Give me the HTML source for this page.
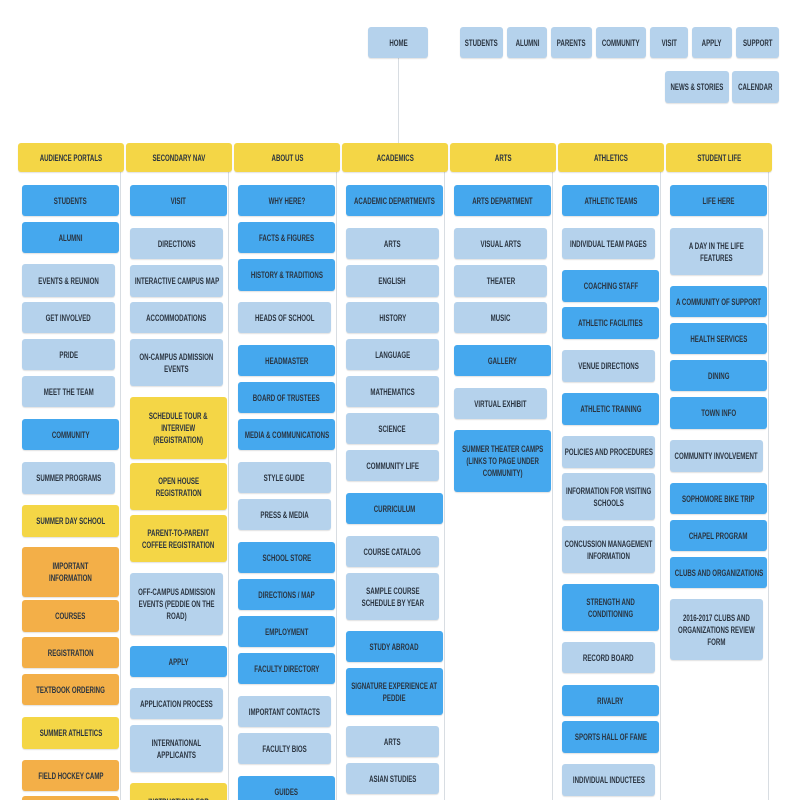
<!DOCTYPE html>
<html><head><meta charset="utf-8">
<style>
html,body{margin:0;padding:0;background:#fff;width:800px;height:800px;overflow:hidden;position:relative}
.b{position:absolute;box-sizing:border-box;border-radius:3px;display:flex;align-items:center;justify-content:center;text-align:center;font-family:"Liberation Sans",sans-serif;font-size:9px;font-weight:bold;line-height:12px;color:#2a3440;box-shadow:0 1px 1px rgba(0,0,0,0.12);overflow:visible}
.b span{display:inline-block;white-space:nowrap;transform:scaleX(0.68);transform-origin:center}
.y{background:#f4d646}.bl{background:#45a8ee}.l{background:#b5d2ec}.o{background:#f3af48}
.ln{position:absolute;background:#d8dde2}
</style></head><body>
<div class="ln" style="left:398px;top:58px;width:1px;height:85px"></div>
<script>
const top1=[["HOME",368,428,27,58],["STUDENTS",460,503,27,58],["ALUMNI",507,547,27,58],["PARENTS",551,592,27,58],["COMMUNITY",596,646,27,58],["VISIT",650,688,27,58],["APPLY",692,732,27,58],["SUPPORT",736,779,27,58],["NEWS & STORIES",665,729,71,103],["CALENDAR",732,779,71,103]];
const cols=[18,126,234,342,450,558,666];
const heads=["AUDIENCE PORTALS","SECONDARY NAV","ABOUT US","ACADEMICS","ARTS","ATHLETICS","STUDENT LIFE"];
const items=[
[["STUDENTS",185,216,"bl"],["ALUMNI",222,253,"bl"],["EVENTS & REUNION",264,297,"l"],["GET INVOLVED",302,333,"l"],["PRIDE",339,370,"l"],["MEET THE TEAM",376,407,"l"],["COMMUNITY",419,450,"bl"],["SUMMER PROGRAMS",462,494,"l"],["SUMMER DAY SCHOOL",505,537,"y"],["IMPORTANT<br>INFORMATION",547,597,"o"],["COURSES",600,632,"o"],["REGISTRATION",637,668,"o"],["TEXTBOOK ORDERING",674,705,"o"],["SUMMER ATHLETICS",717,749,"y"],["FIELD HOCKEY CAMP",760,791,"o"],["",796,820,"o"]],
[["VISIT",185,216,"bl"],["DIRECTIONS",228,259,"l"],["INTERACTIVE CAMPUS MAP",265,297,"l"],["ACCOMMODATIONS",302,333,"l"],["ON-CAMPUS ADMISSION<br>EVENTS",339,386,"l"],["SCHEDULE TOUR &<br>INTERVIEW<br>(REGISTRATION)",397,459,"y"],["OPEN HOUSE<br>REGISTRATION",463,510,"y"],["PARENT-TO-PARENT<br>COFFEE REGISTRATION",515,562,"y"],["OFF-CAMPUS ADMISSION<br>EVENTS (PEDDIE ON THE<br>ROAD)",573,635,"l"],["APPLY",646,677,"bl"],["APPLICATION PROCESS",688,719,"l"],["INTERNATIONAL<br>APPLICANTS",725,772,"l"],["INSTRUCTIONS FOR",783,820,"y"]],
[["WHY HERE?",185,216,"bl"],["FACTS & FIGURES",222,253,"bl"],["HISTORY & TRADITIONS",259,291,"bl"],["HEADS OF SCHOOL",302,333,"l"],["HEADMASTER",345,376,"bl"],["BOARD OF TRUSTEES",382,413,"bl"],["MEDIA & COMMUNICATIONS",419,450,"bl"],["STYLE GUIDE",462,493,"l"],["PRESS & MEDIA",499,530,"l"],["SCHOOL STORE",542,573,"bl"],["DIRECTIONS / MAP",579,610,"bl"],["EMPLOYMENT",616,647,"bl"],["FACULTY DIRECTORY",653,684,"bl"],["IMPORTANT CONTACTS",696,727,"l"],["FACULTY BIOS",733,764,"l"],["GUIDES",776,808,"bl"]],
[["ACADEMIC DEPARTMENTS",185,216,"bl"],["ARTS",228,259,"l"],["ENGLISH",265,297,"l"],["HISTORY",302,333,"l"],["LANGUAGE",339,370,"l"],["MATHEMATICS",376,407,"l"],["SCIENCE",413,444,"l"],["COMMUNITY LIFE",450,481,"l"],["CURRICULUM",493,524,"bl"],["COURSE CATALOG",536,567,"l"],["SAMPLE COURSE<br>SCHEDULE BY YEAR",573,620,"l"],["STUDY ABROAD",631,662,"bl"],["SIGNATURE EXPERIENCE AT<br>PEDDIE",668,715,"bl"],["ARTS",726,757,"l"],["ASIAN STUDIES",763,794,"l"]],
[["ARTS DEPARTMENT",185,216,"bl"],["VISUAL ARTS",228,259,"l"],["THEATER",265,297,"l"],["MUSIC",302,333,"l"],["GALLERY",345,376,"bl"],["VIRTUAL EXHIBIT",388,419,"l"],["SUMMER THEATER CAMPS<br>(LINKS TO PAGE UNDER<br>COMMUNITY)",430,492,"bl"]],
[["ATHLETIC TEAMS",185,216,"bl"],["INDIVIDUAL TEAM PAGES",228,259,"l"],["COACHING STAFF",270,302,"bl"],["ATHLETIC FACILITIES",307,339,"bl"],["VENUE DIRECTIONS",350,382,"l"],["ATHLETIC TRAINING",393,425,"bl"],["POLICIES AND PROCEDURES",436,468,"l"],["INFORMATION FOR VISITING<br>SCHOOLS",473,520,"l"],["CONCUSSION MANAGEMENT<br>INFORMATION",526,573,"l"],["STRENGTH AND<br>CONDITIONING",584,631,"bl"],["RECORD BOARD",642,673,"l"],["RIVALRY",685,716,"bl"],["SPORTS HALL OF FAME",721,753,"bl"],["INDIVIDUAL INDUCTEES",764,796,"l"]],
[["LIFE HERE",185,216,"bl"],["A DAY IN THE LIFE<br>FEATURES",228,275,"l"],["A COMMUNITY OF SUPPORT",286,317,"bl"],["HEALTH SERVICES",323,354,"bl"],["DINING",360,391,"bl"],["TOWN INFO",397,429,"bl"],["COMMUNITY INVOLVEMENT",440,472,"l"],["SOPHOMORE BIKE TRIP",483,514,"bl"],["CHAPEL PROGRAM",520,551,"bl"],["CLUBS AND ORGANIZATIONS",557,588,"bl"],["2016-2017 CLUBS AND<br>ORGANIZATIONS REVIEW<br>FORM",599,660,"l"]]
];
function slug(s){return s.replace(/<br>/g,' ').replace(/&/g,'and').toLowerCase().replace(/[^a-z0-9]+/g,'-').replace(/^-|-$/g,'')||'item';}
function esc(s){return s.replace(/&/g,'&amp;');}
function box(cls,html,x,y,w,h){const d=document.createElement('div');d.className='b '+cls;d.style.left=x+'px';d.style.top=y+'px';d.style.width=w+'px';d.style.height=h+'px';d.innerHTML='<span>'+html+'</span>';document.body.appendChild(d);return d;}
top1.forEach(t=>{const d=box('l',esc(t[0]),t[1],t[3],t[2]-t[1],t[4]-t[3]);

});
cols.forEach((x,i)=>{
const ln=document.createElement('div');ln.className='ln';ln.style.left=(x+102)+'px';ln.style.top='172px';ln.style.width='1px';ln.style.height='628px';document.body.appendChild(ln);


const h=box('y',heads[i],x,143,106,29);


items[i].forEach(it=>{const w=it[3]==='l'?93:97;const d=box(it[3],esc(it[0]),x+4,it[1],w,it[2]-it[1]);

});
});
</script>
</body></html>
